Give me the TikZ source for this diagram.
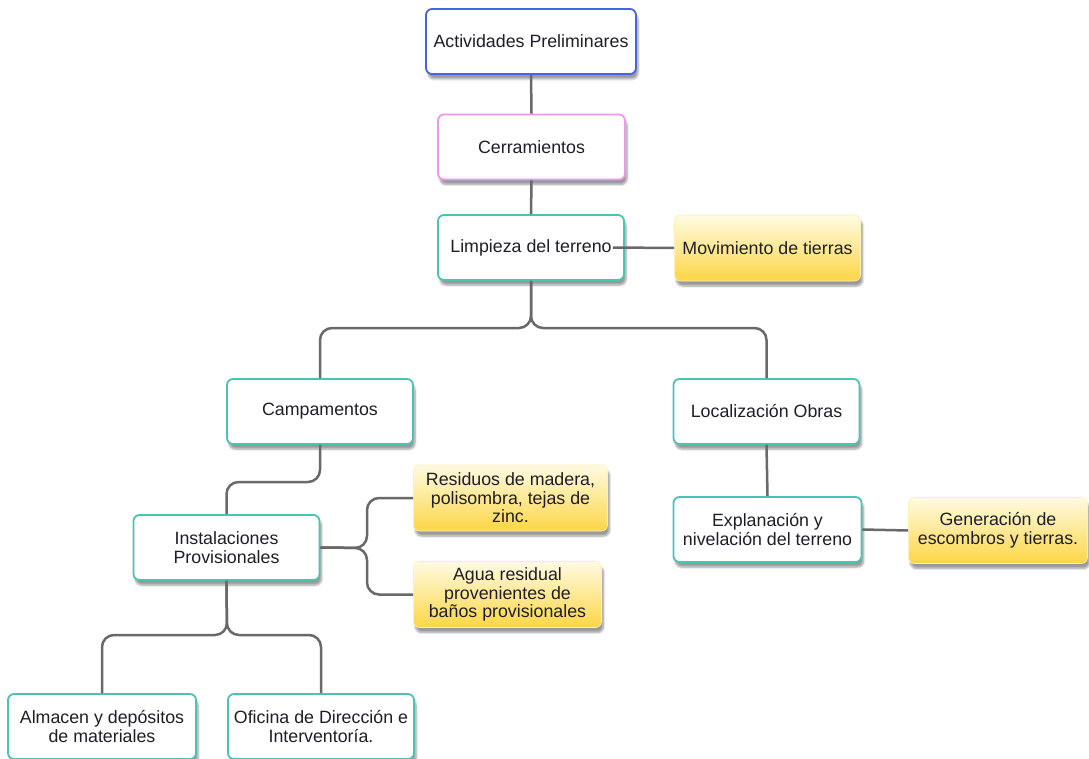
\documentclass[tikz,border=0pt]{standalone}
\usepackage{fontspec}
\setmainfont{Liberation Sans}
\usetikzlibrary{calc,shadows.blur}

\definecolor{edgeblue}{RGB}{70,100,220}
\definecolor{edgepink}{RGB}{240,150,235}
\definecolor{edgeteal}{RGB}{75,195,180}
\definecolor{linegray}{RGB}{105,105,105}
\definecolor{goldtop}{RGB}{255,251,226}
\definecolor{goldbot}{RGB}{252,214,70}
\definecolor{inkdark}{RGB}{30,30,40}

\tikzset{
  basebox/.style={rounded corners=6pt, align=center, text=inkdark,
    font=\fontsize{17.8}{18.5}\selectfont, inner sep=2pt,
    blur shadow={shadow xshift=2pt, shadow yshift=-5pt, shadow opacity=40, shadow blur steps=6}},
  stepbox/.style={basebox, draw=edgeteal, line width=1.8pt, fill=white,
    minimum width=#1, minimum height=65pt},
  stepbox/.default=186pt,
  wastebox/.style={basebox, draw=goldbot!40, line width=0.6pt,
    top color=goldtop, bottom color=goldbot,
    minimum width=#1, minimum height=66pt},
  wastebox/.default=186pt,
  conn/.style={draw=linegray, line width=2.5pt, rounded corners=12pt}
}

\begin{document}
\begin{tikzpicture}[x=1pt,y=-1pt]
\useasboundingbox (0,0) rectangle (1089,759);

% main chain
\node[stepbox=210pt, draw=edgeblue] (act) at (531,41.5) {Actividades Preliminares};
\node[stepbox=187pt, draw=edgepink] (cerr) at (531.5,147) {Cerramientos};
\node[stepbox] (limp) at (531,247.5) {Limpieza del terreno};
\node[wastebox=186pt] (mov) at (767.5,248) {Movimiento de tierras};

% second level
\node[stepbox] (camp) at (320,411.5) {Campamentos};
\node[stepbox] (loc) at (766.5,411.5) {Localización Obras};

% camp branch
\node[stepbox] (inst) at (226.5,547.5) {Instalaciones\\Provisionales};
\node[wastebox=194pt] (res) at (510.5,498) {Residuos de madera,\\polisombra, tejas de\\zinc.};
\node[wastebox=188pt] (agua) at (507.5,594.5) {Agua residual\\provenientes de\\baños provisionales};
\node[stepbox=188pt] (alm) at (102,726.5) {Almacen y depósitos\\de materiales};
\node[stepbox] (ofi) at (321,726.5) {Oficina de Dirección e\\Interventoría.};

% localization branch
\node[stepbox=188pt] (expl) at (767.5,529.5) {Explanación y\\nivelación del terreno};
\node[wastebox=179pt] (gen) at (998,530.5) {Generación de\\escombros y tierras.};

% connectors
\draw[conn] (act.south) -- (cerr.north);
\draw[conn] (cerr.south) -- (limp.north);
\draw[conn] ($(limp.east)+(-12,0)$) -- (mov.west);

\coordinate (fork1) at (531,328);
\draw[conn] (limp.south) -- (fork1) -| (camp.north);
\draw[conn] (limp.south) -- (fork1) -| (loc.north);

\coordinate (fork2) at (320,482);
\draw[conn] (camp.south) -- (fork2) -| (inst.north);

\coordinate (fork3) at (367,548);
\draw[conn] (inst.east) -- (fork3) |- (res.west);
\draw[conn] (inst.east) -- (fork3) |- (agua.west);

\coordinate (fork4) at (227,635);
\draw[conn] (inst.south) -- (fork4) -| (alm.north);
\draw[conn] (inst.south) -- (fork4) -| (ofi.north);

\draw[conn] (loc.south) -- (expl.north);
\draw[conn] (expl.east) -- (gen.west);
\end{tikzpicture}
\end{document}
